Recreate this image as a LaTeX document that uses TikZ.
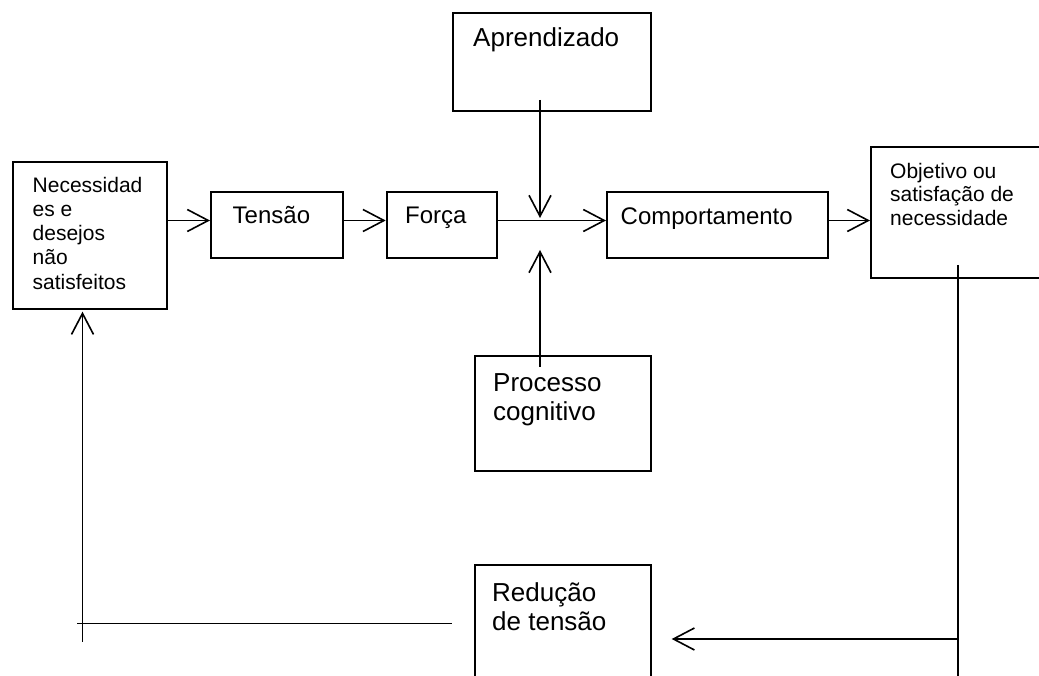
\documentclass[tikz,border=0pt]{standalone}
\usepackage{fontspec}
\setmainfont{Liberation Sans}
\usetikzlibrary{arrows.meta}
\begin{document}
\begin{tikzpicture}[x=1pt,y=-1pt,
  box/.style={draw, line width=1.9pt, rectangle, anchor=north west, inner sep=0pt},
  conn/.style={line width=1.9pt},
  arr/.style={conn, -{Straight Barb[length=21pt,width=22pt,line width=1.6pt]}},
  lblS/.style={anchor=base west, inner sep=0pt, font=\fontsize{21}{24}\selectfont},
  lblM/.style={anchor=base west, inner sep=0pt, font=\fontsize{24}{28}\selectfont},
  lblL/.style={anchor=base west, inner sep=0pt, font=\fontsize{26}{30}\selectfont}]
\useasboundingbox (0,0) rectangle (1039,676);
\clip (0,0) rectangle (1039,676);
% boxes
\node[box, minimum width=154pt, minimum height=147.3pt] (nec) at (12,161) {};
\node[box, minimum width=132pt, minimum height=65.7pt] (ten) at (210,191) {};
\node[box, minimum width=110.6pt, minimum height=65.7pt] (for) at (385.7,191) {};
\node[box, minimum width=220.7pt, minimum height=65.7pt] (com) at (606,191) {};
\node[box, minimum width=190pt, minimum height=130.7pt] (obj) at (870,146) {};
\node[box, minimum width=198.3pt, minimum height=98.3pt] (apr) at (451.7,11.7) {};
\node[box, minimum width=176pt, minimum height=115pt] (pro) at (474,355) {};
\node[box, minimum width=176pt, minimum height=140pt] (red) at (474,564) {};
% texts
\node[lblS] (n1) at (32.5,192.3) {Necessidad};
\node[lblS] (n2) at (32.5,216.5) {es e};
\node[lblS] (n3) at (32.5,240.8) {desejos};
\node[lblS] (n4) at (32.5,265) {não};
\node[lblS] (n5) at (32.5,289.3) {satisfeitos};
\node[lblM] (t1) at (232.5,223.3) {Tensão};
\node[lblM] (f1) at (405,223.3) {Força};
\node[lblM] (c1) at (620.5,224.3) {Comportamento};
\node[lblL] (a1) at (473,46.7) {Aprendizado};
\node[lblS] (o1) at (890,178.5) {Objetivo ou};
\node[lblS] (o2) at (890,202) {satisfação de};
\node[lblS] (o3) at (890,225.5) {necessidade};
\node[lblL] (p1) at (493,391.5) {Processo};
\node[lblL] (p2) at (493,420.5) {cognitivo};
\node[lblL] (r1) at (492,601.5) {Redução};
\node[lblL] (r2) at (492,630.3) {de tensão};
% connectors
\coordinate (ym) at (0,220.5);
\draw[arr] (nec.east |- ym) -- (ten.west |- ym);
\draw[arr] (ten.east |- ym) -- (for.west |- ym);
\draw[arr] (for.east |- ym) -- (com.west |- ym);
\draw[arr] (com.east |- ym) -- (obj.west |- ym);
\coordinate (as) at (540,100);
\coordinate (jt) at (540,218);
\coordinate (ps) at (540,366.7);
\coordinate (jb) at (540,250);
\draw[arr] (as) -- (jt);
\draw[arr] (ps) -- (jb);
\coordinate (os) at (957.7,265);
\coordinate (ob) at (957.7,690);
\draw[conn] (os) -- (ob);
\coordinate (ot) at (957.7,639);
\coordinate (rt) at (671.7,639);
\draw[arr] (ot) -- (rt);
\coordinate (rl) at (451.7,623.5);
\coordinate (ll) at (77.3,623.5);
\draw[conn] (rl) -- (ll);
\coordinate (lb) at (82.5,641.7);
\coordinate (lt) at (82.5,311.7);
\draw[arr] (lb) -- (lt);
\end{tikzpicture}
\end{document}
